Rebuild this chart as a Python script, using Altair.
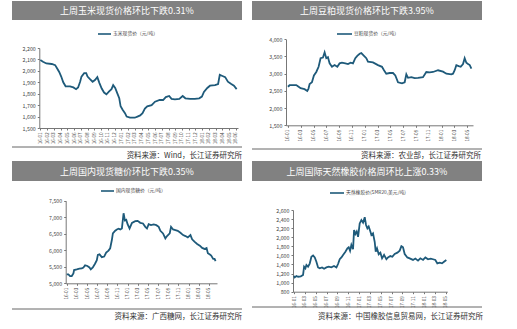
import json
import altair as alt
import pandas as pd

# ---------------- data (x = months since 2016-01) ----------------
corn_m = [0, 0.4, 0.9, 1.7, 2.2, 2.5, 2.8, 3.1, 3.4, 3.75, 4.4, 4.9, 5.3, 5.6, 5.9, 6.1, 6.5, 6.8, 7.0, 7.4,
          7.75, 8.1, 8.45, 8.75, 9.1, 9.45, 9.8, 10.2, 10.55, 10.8, 11.1, 11.4, 11.7, 11.9, 12.2, 12.55, 12.8,
          13.3, 14.0, 14.4, 14.8, 15.15, 15.5, 15.85, 16.5, 17.0, 17.7, 18.2, 18.6, 19.1, 19.45, 19.95, 20.6,
          21.1, 21.5, 22.2, 22.9, 23.55, 23.95, 24.25, 24.75, 25.15, 25.9, 26.35, 26.6, 27.0, 27.4, 27.8, 28.3,
          28.7, 29.1]
corn_v = [2095, 2080, 2065, 2060, 2050, 2020, 1990, 1950, 1900, 1865, 1865, 1855, 1840, 1855, 1905, 1950, 1980,
          1980, 1950, 1925, 1905, 1920, 1945, 1895, 1845, 1810, 1795, 1820, 1840, 1875, 1850, 1805, 1760, 1690,
          1660, 1630, 1600, 1590, 1590, 1600, 1610, 1630, 1670, 1690, 1700, 1730, 1745, 1745, 1770, 1780, 1755,
          1750, 1755, 1780, 1760, 1755, 1755, 1760, 1775, 1815, 1850, 1870, 1875, 1885, 1965, 1955, 1945, 1905,
          1885, 1870, 1840]

meal_m = [0, 0.26, 0.78, 1.3, 1.56, 1.98, 2.6, 3.02, 3.2, 3.39, 3.75, 4.06, 4.43, 4.79, 5.1, 5.47, 5.73, 5.99,
          6.25, 6.51, 6.88, 7.29, 7.71, 8.07, 8.44, 8.96, 9.38, 9.79, 10.16, 10.52, 10.83, 11.2, 11.46, 11.88,
          12.24, 12.5, 13.28, 14.06, 14.69, 15.0, 15.36, 15.89, 16.41, 16.77, 17.19, 17.81, 18.23, 18.49, 18.75,
          19.27, 19.79, 20.31, 21.09, 21.61, 22.14, 22.66, 23.44, 24.22, 24.74, 25.52, 25.78, 26.04, 26.3, 26.67,
          26.98, 27.34, 27.6, 27.86, 28.13, 28.39, 28.65]
meal_v = [2620, 2665, 2670, 2670, 2635, 2580, 2550, 2500, 2560, 2700, 2750, 2950, 3050, 3200, 3450, 3470, 3620,
          3450, 3480, 3300, 3200, 3250, 3200, 3300, 3320, 3300, 3280, 3320, 3300, 3450, 3520, 3580, 3600, 3520,
          3450, 3350, 3330, 3250, 3200, 3100, 3000, 3020, 3020, 2950, 2750, 2720, 2750, 2980, 2880, 2900, 2870,
          2880, 2900, 3050, 3040, 3050, 3100, 3060, 3000, 2980, 3000, 3100, 3250, 3220, 3200, 3280, 3450, 3320,
          3280, 3250, 3150]

sugar_m = [0, 0.33, 0.66, 0.99, 1.32, 1.45, 1.98, 2.5, 2.96, 3.29, 3.62, 4.08, 4.48, 4.74, 5.14, 5.6, 5.93, 6.13,
           6.46, 6.92, 7.38, 7.77, 8.23, 8.56, 8.89, 9.09, 9.55, 9.88, 10.21, 10.54, 10.87, 11.2, 11.46, 11.73,
           11.99, 12.38, 12.85, 13.5, 13.97, 14.49, 15.02, 15.48, 15.81, 16.14, 16.6, 17.13, 17.65, 18.12, 18.45,
           18.97, 19.43, 19.76, 20.29, 20.55, 20.95, 21.41, 21.87, 22.4, 22.92, 23.39, 23.85, 24.37, 24.7, 25.16,
           25.69, 26.22, 26.68, 27.14, 27.54, 27.8, 28.2, 28.46, 28.85, 29.12, 29.32]
sugar_v = [5270, 5270, 5220, 5220, 5300, 5400, 5420, 5445, 5450, 5480, 5545, 5525, 5480, 5420, 5480, 5600, 5700,
           5860, 5875, 5790, 5810, 5930, 5990, 6060, 6310, 6510, 6590, 6630, 6650, 6630, 6660, 7120, 6900, 6920,
           6790, 6660, 6830, 6880, 6890, 6830, 6810, 6710, 6660, 6790, 6760, 6780, 6760, 6710, 6590, 6510, 6360,
           6430, 6510, 6710, 6630, 6610, 6590, 6530, 6460, 6430, 6390, 6460, 6330, 6260, 6190, 6140, 6070, 6040,
           6070, 5910, 5870, 5840, 5740, 5740, 5670]

rub_m = [0, 0.12, 0.43, 0.74, 1.23, 1.66, 1.85, 2.09, 2.28, 2.58, 2.89, 3.2, 3.51, 3.82, 4.12, 4.43, 4.74, 5.17,
         5.54, 5.97, 6.4, 6.89, 7.38, 7.82, 8.12, 8.43, 8.74, 9.05, 9.48, 9.85, 10.09, 10.34, 10.58, 10.89, 11.08,
         11.32, 11.57, 11.82, 12.12, 12.43, 12.74, 13.05, 13.29, 13.54, 13.78, 14.09, 14.28, 14.58, 14.89, 15.08,
         15.32, 15.63, 15.94, 16.25, 16.62, 17.05, 17.35, 17.78, 18.15, 18.58, 19.08, 19.51, 19.82, 20.12, 20.43,
         20.92, 21.35, 21.97, 22.4, 22.89, 23.32, 23.82, 24.25, 24.74, 25.23, 25.66, 26.09, 26.46, 26.89, 27.32,
         27.69, 28.12]
rub_v = [1150, 1115, 1145, 1130, 1140, 1170, 1350, 1315, 1390, 1350, 1420, 1570, 1600, 1555, 1460, 1335, 1315,
         1335, 1305, 1335, 1350, 1335, 1365, 1335, 1410, 1515, 1555, 1610, 1680, 1755, 1780, 1700, 1830, 1735,
         2160, 2070, 2125, 2010, 2305, 2380, 2320, 2440, 2270, 2195, 2235, 2125, 2050, 2085, 1900, 1680, 1755,
         1625, 1660, 1535, 1610, 1515, 1555, 1585, 1570, 1630, 1660, 1705, 1805, 1780, 1630, 1555, 1535, 1500,
         1530, 1485, 1535, 1500, 1555, 1515, 1530, 1515, 1500, 1425, 1440, 1425, 1460, 1500]

monthly_ticks = ["16-01", "16-02", "16-03", "16-04", "16-05", "16-06", "16-07", "16-08", "16-09", "16-10",
                 "16-11", "16-12", "17-01", "17-02", "17-03", "17-04", "17-05", "17-06", "17-07", "17-08",
                 "17-09", "17-10", "17-11", "17-12", "18-01", "18-02", "18-03", "18-04", "18-05", "18-06"]
bimonthly_ticks = ["16-01", "16-03", "16-05", "16-07", "16-09", "16-11", "17-01", "17-03", "17-05", "17-07",
                   "17-09", "17-11", "18-01", "18-03", "18-05"]

corn_yticks = [1500, 1600, 1700, 1800, 1900, 2000, 2100, 2200]
meal_yticks = [1500, 2000, 2500, 3000, 3500, 4000]
sugar_yticks = [5000, 5500, 6000, 6500, 7000, 7500]
rub_yticks = [800, 1000, 1200, 1400, 1600, 1800, 2000, 2200, 2400, 2600]

titles = ["上周玉米现货价格环比下跌0.31%", "上周豆粕现货价格环比下跌3.95%",
          "上周国内现货糖价环比下跌0.35%", "上周国际天然橡胶价格周环比上涨0.33%"]
legends = ["玉米现货价（元/吨）", "豆粕现货价（元/吨）", "国内现货糖价（元/吨）", "天然橡胶价(SMR20,美元/吨)"]
sources = ["资料来源：Wind，长江证券研究所", "资料来源：农业部，长江证券研究所",
           "资料来源：广西糖网，长江证券研究所", "资料来源：中国橡胶信息贸易网，长江证券研究所"]

# ---------------- styling ----------------
W, H = 517, 329
LINE = "#1e5a7a"
BAR = "#818181"
AX = "#777777"
LBL = "#444444"
FONT = "Noto Sans CJK SC"
one = alt.Data(values=[{}])


def line_panel(m, v, ticks, step, xdom, xrng, ydom, yrng, yticks):
    df = pd.DataFrame({"m": m, "v": v})
    n = len(ticks)
    expr = json.dumps(ticks) + "[round(datum.value/" + str(step) + ")]"
    return alt.Chart(df).mark_line(color=LINE, strokeWidth=1.8).encode(
        x=alt.X("m:Q",
                scale=alt.Scale(domain=xdom, range=xrng, nice=False, zero=False),
                axis=alt.Axis(orient="bottom", offset=yrng[0] - H, values=[i * step for i in range(n)],
                              labelExpr=expr, labelAngle=270, labelFontSize=4.6, labelColor=LBL,
                              labelFont=FONT, tickSize=2, tickColor=AX, domainColor=AX,
                              labelPadding=2, title=None, grid=False, labelOverlap=False)),
        y=alt.Y("v:Q",
                scale=alt.Scale(domain=ydom, range=yrng, nice=False, zero=False),
                axis=alt.Axis(orient="left", offset=-xrng[0], values=yticks, format=",d",
                              labelFontSize=5.3, labelColor=LBL, labelFont=FONT, tickSize=2,
                              tickColor=AX, domainColor=AX, labelPadding=2, title=None, grid=False)),
    )


def decor(x0, x1, ybar0, ybar1, title, lx0, lx1, ly, legend, ysrc_line, xsrc_right, ysrc_text, source):
    tx = (x0 + x1) / 2
    bar = alt.Chart(one).mark_rect(color=BAR).encode(
        x=alt.value(x0), x2=alt.value(x1), y=alt.value(ybar0), y2=alt.value(ybar1))
    ttl = alt.Chart(one).mark_text(color="white", fontSize=9, font=FONT, align="center",
                                   baseline="middle").encode(
        x=alt.value(tx), y=alt.value((ybar0 + ybar1) / 2 + 0.5), text=alt.value(title))
    lg_line = alt.Chart(one).mark_rule(color=LINE, strokeWidth=1.6).encode(
        x=alt.value(lx0), x2=alt.value(lx1), y=alt.value(ly))
    lg_text = alt.Chart(one).mark_text(color=LBL, fontSize=4.8, font=FONT, align="left",
                                       baseline="middle").encode(
        x=alt.value(lx1 + 2), y=alt.value(ly), text=alt.value(legend))
    src_rule = alt.Chart(one).mark_rule(color="#555555", strokeWidth=0.9).encode(
        x=alt.value(x0), x2=alt.value(x1), y=alt.value(ysrc_line))
    src_text = alt.Chart(one).mark_text(color="#333333", fontSize=7.5, font=FONT, align="right",
                                        baseline="middle").encode(
        x=alt.value(xsrc_right), y=alt.value(ysrc_text), text=alt.value(source))
    return [bar, ttl, lg_line, lg_text, src_rule, src_text]


layers = []
layers += decor(12, 242, 1, 20, titles[0], 98, 111, 34, legends[0], 147, 242, 155.5, sources[0])
layers += decor(252, 482, 1, 20, titles[1], 337, 352, 34, legends[1], 149, 481, 155.5, sources[1])
layers += decor(12, 242, 161, 181, titles[2], 101, 114, 191, legends[2], 309, 242, 317, sources[2])
layers += decor(252, 482, 161, 181, titles[3], 330, 344, 193, legends[3], 307, 483, 317, sources[3])

layers.append(line_panel(corn_m, corn_v, monthly_ticks, 1, [-0.15, 29.3], [39.3, 238],
                         [1500, 2200], [128, 48], corn_yticks))
layers.append(line_panel(meal_m, meal_v, bimonthly_ticks, 2, [-0.3, 28.9], [286, 473],
                         [1500, 4000], [125.3, 39.3], meal_yticks))
layers.append(line_panel(sugar_m, sugar_v, bimonthly_ticks, 2, [-0.2, 29.6], [65.7, 217],
                         [5000, 7500], [283.3, 200.7], sugar_yticks))
layers.append(line_panel(rub_m, rub_v, bimonthly_ticks, 2, [-0.2, 28.3], [293, 447.3],
                         [800, 2600], [291.7, 210], rub_yticks))

chart = alt.layer(*layers).resolve_scale(x="independent", y="independent").resolve_axis(
    x="independent", y="independent").properties(
    width=W, height=H, autosize=alt.AutoSizeParams(type="none"), padding=0, background="white"
).configure_view(stroke=None)

chart.save("out.html", embed_options={"renderer": "svg", "actions": False})
